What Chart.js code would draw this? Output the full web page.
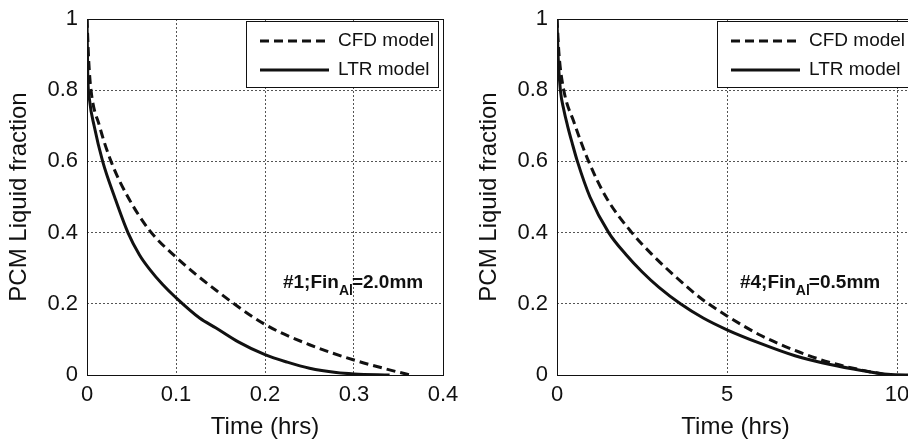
<!DOCTYPE html>
<html>
<head>
<meta charset="utf-8">
<script src="https://cdn.jsdelivr.net/npm/chart.js@4/dist/chart.umd.min.js"></script>
<style>
  html, body { margin: 0; padding: 0; background: #fff; overflow: hidden; width: 908px; height: 442px; }
  #wrap { position: relative; width: 908px; height: 442px; overflow: hidden; }
  canvas { position: absolute; top: 0; }
  #c1 { left: 0; }
  #c2 { left: 470px; }
</style>
</head>
<body>
<div id="wrap">
  <canvas id="c1" width="470" height="442"></canvas>
  <canvas id="c2" width="461" height="442"></canvas>
</div>
<script>
// ---- Data ----
// Left panel: #1; Fin_Al = 2.0 mm  (time in hrs)
const cfdLeftT = [0, 0.002, 0.0045, 0.014, 0.027, 0.046, 0.070, 0.100, 0.145, 0.200, 0.250, 0.300, 0.333, 0.350, 0.363];
const cfdLeftV = [1.0, 0.88, 0.80, 0.70, 0.60, 0.50, 0.407, 0.331, 0.238, 0.142, 0.085, 0.042, 0.019, 0.008, 0.0];
const ltrLeftT = [0, 0.0008, 0.003, 0.008, 0.0176, 0.031, 0.046, 0.059, 0.070, 0.085, 0.100, 0.1265, 0.145, 0.170, 0.200, 0.225, 0.250, 0.280, 0.300, 0.340];
const ltrLeftV = [1.0, 0.85, 0.77, 0.70, 0.60, 0.50, 0.40, 0.337, 0.298, 0.254, 0.217, 0.160, 0.132, 0.093, 0.057, 0.036, 0.019, 0.007, 0.003, 0.0];

// Right panel: #4; Fin_Al = 0.5 mm
const cfdRightT = [0, 0.06, 0.20, 0.50, 0.93, 1.44, 2.20, 2.81, 3.50, 4.21, 5.00, 6.00, 7.00, 8.00, 9.00, 9.72];
const cfdRightV = [1.0, 0.90, 0.80, 0.71, 0.60, 0.50, 0.40, 0.337, 0.275, 0.217, 0.166, 0.111, 0.069, 0.036, 0.013, 0.0];
const ltrRightT = [0, 0.03, 0.10, 0.20, 0.31, 0.45, 0.60, 0.97, 1.52, 2.04, 2.50, 3.00, 3.63, 4.30, 5.00, 6.00, 7.00, 8.00, 9.00, 9.72, 10.5];
const ltrRightV = [1.0, 0.90, 0.80, 0.745, 0.70, 0.65, 0.60, 0.50, 0.40, 0.337, 0.29, 0.246, 0.20, 0.16, 0.127, 0.088, 0.054, 0.030, 0.012, 0.002, 0.0];

// Tick labels
const yTicks = [0, 0.2, 0.4, 0.6, 0.8, 1];
const xTicksLeft = [0, 0.1, 0.2, 0.3, 0.4];
const xTicksRight = [0, 5, 10];

const seriesNames = ['CFD model', 'LTR model'];
const yTitle = 'PCM Liquid fraction';
const xTitle = 'Time (hrs)';

const FONT = '"Liberation Sans", Arial, Helvetica, sans-serif';

function pts(t, v) { return t.map((x, i) => ({ x: x, y: v[i] })); }

const framePlugin = {
  id: 'frame',
  afterDatasetsDraw(chart) {
    const a = chart.chartArea, ctx = chart.ctx;
    ctx.save();
    ctx.strokeStyle = '#111';
    ctx.lineWidth = 1;
    ctx.setLineDash([]);
    ctx.strokeRect(Math.round(a.left) + 0.5, Math.round(a.top) + 0.5,
                   Math.round(a.right - a.left), Math.round(a.bottom - a.top));
    ctx.restore();
  }
};

const boxLegendPlugin = {
  id: 'boxLegend',
  afterDraw(chart) {
    const a = chart.chartArea, ctx = chart.ctx;
    const w = 192, h = 66;
    const x0 = Math.round(a.right) - 5 - w, y0 = Math.round(a.top) + 2;
    ctx.save();
    ctx.fillStyle = '#fff';
    ctx.fillRect(x0, y0, w, h);
    ctx.strokeStyle = '#111';
    ctx.lineWidth = 1;
    ctx.strokeRect(x0 + 0.5, y0 + 0.5, w, h);
    chart.data.datasets.forEach((ds, i) => {
      const yy = y0 + 20 + i * 29;
      ctx.beginPath();
      ctx.setLineDash(ds.borderDash || []);
      ctx.lineWidth = ds.borderWidth;
      ctx.strokeStyle = ds.borderColor;
      ctx.moveTo(x0 + 14, yy);
      ctx.lineTo(x0 + 83, yy);
      ctx.stroke();
      ctx.setLineDash([]);
      ctx.fillStyle = '#111';
      ctx.font = '19px ' + FONT;
      ctx.textBaseline = 'middle';
      ctx.textAlign = 'left';
      ctx.fillText(ds.label, x0 + 92, yy);
    });
    ctx.restore();
  }
};

const notePlugin = {
  id: 'note',
  afterDatasetsDraw(chart, args, opts) {
    if (!opts || !opts.parts) return;
    const ctx = chart.ctx;
    let x = chart.scales.x.getPixelForValue(opts.x);
    const y = chart.scales.y.getPixelForValue(opts.y);
    ctx.save();
    ctx.fillStyle = '#111';
    ctx.textBaseline = 'alphabetic';
    ctx.textAlign = 'left';
    opts.parts.forEach(p => {
      ctx.font = 'bold ' + (p.sub ? 14 : 19) + 'px ' + FONT;
      ctx.fillText(p.text, x, y + (p.sub ? 7 : 0));
      x += ctx.measureText(p.text).width - (p.sub ? 1 : 0);
    });
    ctx.restore();
  }
};

function makeChart(id, cfdT, cfdV, ltrT, ltrV, xMax, xTicks, padRight, noteCfg) {
  return new Chart(document.getElementById(id), {
    type: 'line',
    data: {
      datasets: [
        { label: seriesNames[0], data: pts(cfdT, cfdV), borderColor: '#111', borderWidth: 3,
          borderDash: [9, 5], pointRadius: 0, fill: false, cubicInterpolationMode: 'monotone' },
        { label: seriesNames[1], data: pts(ltrT, ltrV), borderColor: '#111', borderWidth: 3,
          pointRadius: 0, fill: false, cubicInterpolationMode: 'monotone' }
      ]
    },
    options: {
      responsive: false,
      animation: false,
      devicePixelRatio: 1,
      layout: { padding: { top: 19, right: padRight, left: 0, bottom: 0 } },
      plugins: {
        legend: { display: false },
        tooltip: { enabled: false },
        note: noteCfg
      },
      scales: {
        x: {
          type: 'linear', min: 0, max: xMax,
          afterBuildTicks: s => { s.ticks = xTicks.map(v => ({ value: v })); },
          afterFit: s => { s.height = 67; s.paddingLeft = 0; s.paddingRight = 0; },
          ticks: { font: { size: 22, family: FONT }, color: '#111', padding: 7, maxRotation: 0,
                   callback: v => String(v) },
          grid: { color: '#555', lineWidth: 1, drawTicks: false },
          border: { display: false, dash: [2, 2] },
          title: { display: true, text: xTitle, color: '#111', font: { size: 24, family: FONT },
                   padding: { top: 0, bottom: 0 } }
        },
        y: {
          type: 'linear', min: 0, max: 1,
          afterBuildTicks: s => { s.ticks = yTicks.map(v => ({ value: v })); },
          afterFit: s => { s.width = 87; s.paddingTop = 0; s.paddingBottom = 0; },
          ticks: { font: { size: 22, family: FONT }, color: '#111', padding: 9,
                   callback: v => String(v) },
          grid: { color: '#555', lineWidth: 1, drawTicks: false },
          border: { display: false, dash: [2, 2] },
          title: { display: true, text: yTitle, color: '#111', font: { size: 24, family: FONT },
                   padding: { top: 5, bottom: 0 } }
        }
      }
    },
    plugins: [framePlugin, boxLegendPlugin, notePlugin]
  });
}

makeChart('c1', cfdLeftT, cfdLeftV, ltrLeftT, ltrLeftV, 0.4, xTicksLeft, 27,
  { x: 0.2202, y: 0.2444, parts: [{ text: '#1;Fin' }, { text: 'Al', sub: true }, { text: '=2.0mm' }] });
makeChart('c2', cfdRightT, cfdRightV, ltrRightT, ltrRightV, 10.5, xTicksRight, 17,
  { x: 5.38, y: 0.2444, parts: [{ text: '#4;Fin' }, { text: 'Al', sub: true }, { text: '=0.5mm' }] });
</script>
</body>
</html>
